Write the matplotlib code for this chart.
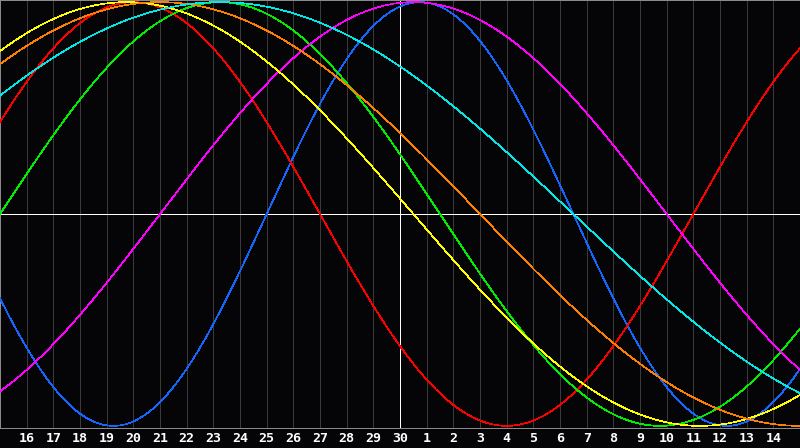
import numpy as np
import matplotlib
matplotlib.use("Agg")
import matplotlib.pyplot as plt

# Biorhythm cycles: period length (days) and how far into each cycle
# the chart centre ("today", the 30th) sits
cycle_names = ["physical", "emotional", "intellectual", "intuitive",
               "aesthetic", "awareness", "spiritual"]
cycle_periods = [23, 28, 33, 38, 43, 48, 53]
cycle_day = [5, 17, 15, 9, 21, 21, 20]
cycle_colors = ["#1466ff", "#ff0000", "#00ee00", "#ff00ff",
                "#ffff00", "#ff7f00", "#00e8e8"]

# Day offsets relative to today and the calendar labels under them
day_offsets = list(range(-14, 15))
day_labels = [str(d) for d in range(16, 31)] + [str(d) for d in range(1, 15)]

PX = 0.72  # one pixel at 100 dpi, in points


def plot_chart():
    fig = plt.figure(figsize=(8, 4.48), dpi=100, facecolor="#050507")
    ax = fig.add_axes([0, 20 / 448, 1, 428 / 448])
    ax.set_facecolor("#050507")

    t = np.linspace(-15, 15, 1601)
    for period, day, color in zip(cycle_periods, cycle_day, cycle_colors):
        ax.plot(t, np.sin(2 * np.pi * (t + day) / period), color=color,
                lw=0.5, antialiased=False, zorder=3)

    # Day grid and the cross through today / zero
    ax.set_xticks(day_offsets)
    ax.set_xticklabels(day_labels, color="white", fontsize=9.5,
                       fontweight="bold", family="DejaVu Sans Mono")
    ax.tick_params(axis="x", length=0, pad=3)
    ax.set_yticks([])
    ax.grid(axis="x", color="#3a3a3a", lw=PX, antialiased=False, zorder=1)
    ax.axhline(0, color="white", lw=PX, antialiased=False, zorder=2)
    ax.axvline(0, color="white", lw=PX, antialiased=False, zorder=2)

    ax.set_xlim(-15, 15)
    ax.set_ylim(-1.01, 1.01)
    for side in ["left", "top", "bottom"]:
        ax.spines[side].set_color("#8a8a8a")
        ax.spines[side].set_linewidth(PX)
    ax.spines["right"].set_visible(False)

    fig.savefig("out.png", dpi=100, facecolor=fig.get_facecolor())


def main():
    plot_chart()


if __name__ == "__main__":
    main()
